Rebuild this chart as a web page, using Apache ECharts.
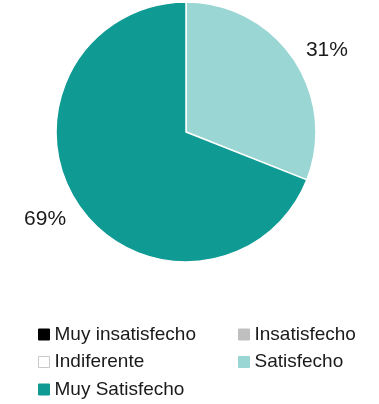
<!DOCTYPE html>
<html>
<head>
<meta charset="utf-8">
<style>
  html, body { margin: 0; padding: 0; background: #ffffff; }
  #chart { width: 379px; height: 404px; }
</style>
<script src="https://cdn.jsdelivr.net/npm/echarts@6/dist/echarts.min.js"></script>
</head>
<body>
<div id="chart"></div>
<script>
// Satisfaction levels and their shares (percent)
const categories = ['Muy insatisfecho', 'Insatisfecho', 'Indiferente', 'Satisfecho', 'Muy Satisfecho'];
const values = [0, 0, 0, 31, 69];
const colors = ['#000000', '#bfbfbf', '#ffffff', '#9ad6d3', '#0f9a94'];
const borders = ['#000000', '#bfbfbf', '#c8c8c8', '#9ad6d3', '#0f9a94'];

const chart = echarts.init(document.getElementById('chart'), null, { renderer: 'canvas' });

const pieData = categories.map((name, i) => ({
  name: name,
  value: values[i],
  itemStyle: {
    color: colors[i],
    borderColor: '#ffffff',
    borderWidth: values[i] > 0 ? 1.5 : 0
  },
  label: { show: values[i] > 0 }
}));

const legendText = { fontFamily: 'Liberation Sans, Arial, sans-serif', fontSize: 19, color: '#1a1a1a' };

const legendItem = (name) => {
  const i = categories.indexOf(name);
  return {
    name: name,
    itemStyle: { color: colors[i], borderColor: borders[i], borderWidth: 1 }
  };
};

const legendBase = {
  orient: 'vertical',
  top: 325,
  height: 79,
  padding: 0,
  itemWidth: 11,
  itemHeight: 11,
  itemGap: 8.5,
  icon: 'rect',
  textStyle: legendText,
  selectedMode: false
};

chart.setOption({
  animation: false,
  legend: [
    Object.assign({}, legendBase, {
      left: 38,
      data: ['Muy insatisfecho', 'Indiferente', 'Muy Satisfecho'].map(legendItem)
    }),
    Object.assign({}, legendBase, {
      left: 238,
      data: ['Insatisfecho', 'Satisfecho'].map(legendItem)
    })
  ],
  series: [
    {
      type: 'pie',
      center: [186, 132],
      radius: [0, 130],
      startAngle: 90,
      clockwise: true,
      stillShowZeroSum: false,
      data: pieData,
      label: {
        position: 'outside',
        formatter: (p) => p.value + '%',
        fontFamily: 'Liberation Sans, Arial, sans-serif',
        fontSize: 21,
        color: '#1a1a1a',
        distanceToLabelLine: 0
      },
      labelLine: { show: false, length: 15, length2: 0 },
      labelLayout: (params) => (params.labelRect.x < 186 ? { dy: 6 } : { dy: 0 }),
      emphasis: { disabled: true }
    }
  ]
});
</script>
</body>
</html>
